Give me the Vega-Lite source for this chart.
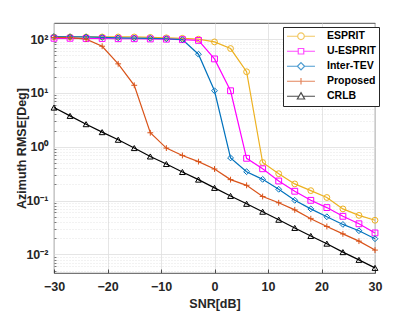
{
  "$schema": "https://vega.github.io/schema/vega-lite/v6.json",
  "width": 321,
  "height": 250,
  "autosize": {"type": "none"},
  "padding": {"left": 54, "top": 23, "right": 40, "bottom": 39},
  "background": "white",
  "config": {
    "font": "Liberation Sans",
    "view": {"stroke": "#262626", "strokeWidth": 0.8},
    "axis": {"domain": false, "labelFlush": false, "labelColor": "#262626", "titleColor": "#262626", "labelFontWeight": "bold", "titleFontWeight": "bold", "labelFontSize": 12.5, "titleFontSize": 12.5, "labelFont": "Liberation Sans", "titleFont": "Liberation Sans"},
    "legend": {"symbolSize": 210, "symbolStrokeWidth": 1.2, "labelFontSize": 10.5, "labelFontWeight": "bold", "labelColor": "#000000", "labelFont": "Liberation Sans", "labelOffset": 18, "padding": 2, "strokeColor": "#262626", "fillColor": "white", "rowPadding": 0, "clipHeight": 14.5, "symbolOffset": 8}
  },
  "data": {"values": [
    {"snr": -30, "series": "ESPRIT", "rmse": 110}, {"snr": -27, "series": "ESPRIT", "rmse": 110}, {"snr": -24, "series": "ESPRIT", "rmse": 110}, {"snr": -21, "series": "ESPRIT", "rmse": 110}, {"snr": -18, "series": "ESPRIT", "rmse": 110}, {"snr": -15, "series": "ESPRIT", "rmse": 110}, {"snr": -12, "series": "ESPRIT", "rmse": 108}, {"snr": -9, "series": "ESPRIT", "rmse": 106}, {"snr": -6, "series": "ESPRIT", "rmse": 104}, {"snr": -3, "series": "ESPRIT", "rmse": 100}, {"snr": 0, "series": "ESPRIT", "rmse": 89}, {"snr": 3, "series": "ESPRIT", "rmse": 67}, {"snr": 6, "series": "ESPRIT", "rmse": 24.8}, {"snr": 9, "series": "ESPRIT", "rmse": 0.51}, {"snr": 12, "series": "ESPRIT", "rmse": 0.316}, {"snr": 15, "series": "ESPRIT", "rmse": 0.204}, {"snr": 18, "series": "ESPRIT", "rmse": 0.153}, {"snr": 21, "series": "ESPRIT", "rmse": 0.114}, {"snr": 24, "series": "ESPRIT", "rmse": 0.07}, {"snr": 27, "series": "ESPRIT", "rmse": 0.053}, {"snr": 30, "series": "ESPRIT", "rmse": 0.043},
    {"snr": -30, "series": "U-ESPRIT", "rmse": 104}, {"snr": -27, "series": "U-ESPRIT", "rmse": 104}, {"snr": -24, "series": "U-ESPRIT", "rmse": 103}, {"snr": -21, "series": "U-ESPRIT", "rmse": 103}, {"snr": -18, "series": "U-ESPRIT", "rmse": 102}, {"snr": -15, "series": "U-ESPRIT", "rmse": 102}, {"snr": -12, "series": "U-ESPRIT", "rmse": 101}, {"snr": -9, "series": "U-ESPRIT", "rmse": 100}, {"snr": -6, "series": "U-ESPRIT", "rmse": 98}, {"snr": -3, "series": "U-ESPRIT", "rmse": 95}, {"snr": 0, "series": "U-ESPRIT", "rmse": 43}, {"snr": 3, "series": "U-ESPRIT", "rmse": 11}, {"snr": 6, "series": "U-ESPRIT", "rmse": 0.61}, {"snr": 9, "series": "U-ESPRIT", "rmse": 0.39}, {"snr": 12, "series": "U-ESPRIT", "rmse": 0.231}, {"snr": 15, "series": "U-ESPRIT", "rmse": 0.149}, {"snr": 18, "series": "U-ESPRIT", "rmse": 0.101}, {"snr": 21, "series": "U-ESPRIT", "rmse": 0.074}, {"snr": 24, "series": "U-ESPRIT", "rmse": 0.051}, {"snr": 27, "series": "U-ESPRIT", "rmse": 0.037}, {"snr": 30, "series": "U-ESPRIT", "rmse": 0.025},
    {"snr": -30, "series": "Inter-TEV", "rmse": 112}, {"snr": -27, "series": "Inter-TEV", "rmse": 111}, {"snr": -24, "series": "Inter-TEV", "rmse": 110}, {"snr": -21, "series": "Inter-TEV", "rmse": 108}, {"snr": -18, "series": "Inter-TEV", "rmse": 106}, {"snr": -15, "series": "Inter-TEV", "rmse": 105}, {"snr": -12, "series": "Inter-TEV", "rmse": 104}, {"snr": -9, "series": "Inter-TEV", "rmse": 102}, {"snr": -6, "series": "Inter-TEV", "rmse": 98}, {"snr": -3, "series": "Inter-TEV", "rmse": 52.6}, {"snr": 0, "series": "Inter-TEV", "rmse": 11}, {"snr": 3, "series": "Inter-TEV", "rmse": 0.62}, {"snr": 6, "series": "Inter-TEV", "rmse": 0.344}, {"snr": 9, "series": "Inter-TEV", "rmse": 0.248}, {"snr": 12, "series": "Inter-TEV", "rmse": 0.162}, {"snr": 15, "series": "Inter-TEV", "rmse": 0.101}, {"snr": 18, "series": "Inter-TEV", "rmse": 0.07}, {"snr": 21, "series": "Inter-TEV", "rmse": 0.05}, {"snr": 24, "series": "Inter-TEV", "rmse": 0.036}, {"snr": 27, "series": "Inter-TEV", "rmse": 0.0275}, {"snr": 30, "series": "Inter-TEV", "rmse": 0.0195},
    {"snr": -30, "series": "Proposed", "rmse": 108}, {"snr": -27, "series": "Proposed", "rmse": 107}, {"snr": -24, "series": "Proposed", "rmse": 100}, {"snr": -21, "series": "Proposed", "rmse": 74}, {"snr": -18, "series": "Proposed", "rmse": 34.8}, {"snr": -15, "series": "Proposed", "rmse": 13.9}, {"snr": -12, "series": "Proposed", "rmse": 1.82}, {"snr": -9, "series": "Proposed", "rmse": 0.946}, {"snr": -6, "series": "Proposed", "rmse": 0.69}, {"snr": -3, "series": "Proposed", "rmse": 0.53}, {"snr": 0, "series": "Proposed", "rmse": 0.386}, {"snr": 3, "series": "Proposed", "rmse": 0.245}, {"snr": 6, "series": "Proposed", "rmse": 0.192}, {"snr": 9, "series": "Proposed", "rmse": 0.119}, {"snr": 12, "series": "Proposed", "rmse": 0.091}, {"snr": 15, "series": "Proposed", "rmse": 0.067}, {"snr": 18, "series": "Proposed", "rmse": 0.046}, {"snr": 21, "series": "Proposed", "rmse": 0.033}, {"snr": 24, "series": "Proposed", "rmse": 0.024}, {"snr": 27, "series": "Proposed", "rmse": 0.0176}, {"snr": 30, "series": "Proposed", "rmse": 0.012},
    {"snr": -30, "series": "CRLB", "rmse": 5.35}, {"snr": -27, "series": "CRLB", "rmse": 3.75}, {"snr": -24, "series": "CRLB", "rmse": 2.63}, {"snr": -21, "series": "CRLB", "rmse": 1.87}, {"snr": -18, "series": "CRLB", "rmse": 1.35}, {"snr": -15, "series": "CRLB", "rmse": 0.946}, {"snr": -12, "series": "CRLB", "rmse": 0.66}, {"snr": -9, "series": "CRLB", "rmse": 0.478}, {"snr": -6, "series": "CRLB", "rmse": 0.34}, {"snr": -3, "series": "CRLB", "rmse": 0.245}, {"snr": 0, "series": "CRLB", "rmse": 0.172}, {"snr": 3, "series": "CRLB", "rmse": 0.122}, {"snr": 6, "series": "CRLB", "rmse": 0.087}, {"snr": 9, "series": "CRLB", "rmse": 0.062}, {"snr": 12, "series": "CRLB", "rmse": 0.044}, {"snr": 15, "series": "CRLB", "rmse": 0.031}, {"snr": 18, "series": "CRLB", "rmse": 0.022}, {"snr": 21, "series": "CRLB", "rmse": 0.0158}, {"snr": 24, "series": "CRLB", "rmse": 0.011}, {"snr": 27, "series": "CRLB", "rmse": 0.0079}, {"snr": 30, "series": "CRLB", "rmse": 0.0056}
  ]},
  "layer": [
    {
      "mark": {"type": "line", "strokeWidth": 1.2},
      "encoding": {
        "x": {"field": "snr", "type": "quantitative", "scale": {"domain": [-30, 30], "nice": false},
          "axis": {"values": [-30, -20, -10, 0, 10, 20, 30], "grid": true, "gridColor": "#dedede", "gridWidth": 0.8, "ticks": false, "labelPadding": 7, "title": "SNR[dB]", "titlePadding": 5}},
        "y": {"field": "rmse", "type": "quantitative", "scale": {"type": "log", "domain": [0.0045, 200], "nice": false},
          "axis": {"values": [0.01, 0.1, 1, 10, 100], "grid": true, "gridColor": "#dedede", "gridWidth": 0.8, "ticks": false, "labelPadding": 6, "title": "Azimuth RMSE[Deg]", "titlePadding": -3,
            "labelExpr": "datum.value > 50 ? '10²' : datum.value > 5 ? '10¹' : datum.value > 0.5 ? '10⁰' : datum.value > 0.05 ? '10⁻¹' : '10⁻²'"}},
        "color": {"field": "series", "type": "nominal", "scale": {"domain": ["ESPRIT", "U-ESPRIT", "Inter-TEV", "Proposed", "CRLB"], "range": ["#EDB120", "#FF00FF", "#0072BD", "#D95319", "#000000"]}, "legend": null}
      }
    },
    {
      "mark": {"type": "point", "filled": false, "strokeWidth": 1, "size": 34, "opacity": 1},
      "encoding": {
        "x": {"field": "snr", "type": "quantitative",
          "axis": {"orient": "bottom", "values": [-30, -20, -10, 0, 10, 20, 30], "grid": false, "labels": false, "ticks": true, "tickSize": -4, "tickColor": "#262626", "tickWidth": 0.8, "title": null}},
        "y": {"field": "rmse", "type": "quantitative",
          "axis": {"orient": "left", "values": [0.005, 0.006, 0.007, 0.008, 0.009, 0.02, 0.03, 0.04, 0.05, 0.06, 0.07, 0.08, 0.09, 0.2, 0.3, 0.4, 0.5, 0.6, 0.7, 0.8, 0.9, 2, 3, 4, 5, 6, 7, 8, 9, 20, 30, 40, 50, 60, 70, 80, 90],
            "grid": true, "gridColor": "#d4d4d4", "gridDash": [1, 2], "gridWidth": 0.6, "labels": false, "ticks": true, "tickSize": -2, "tickColor": "#262626", "tickWidth": 0.6, "title": null}},
        "color": {"field": "series", "type": "nominal", "scale": {"domain": ["ESPRIT", "U-ESPRIT", "Inter-TEV", "Proposed", "CRLB"], "range": ["#EDB120", "#FF00FF", "#0072BD", "#D95319", "#000000"]}, "legend": null},
        "shape": {"field": "series", "type": "nominal", "scale": {"domain": ["ESPRIT", "U-ESPRIT", "Inter-TEV", "Proposed", "CRLB"], "range": ["circle", "square", "diamond", "M0,-1L0,1M-1,0L1,0", "triangle-up"]}, "legend": null}
      }
    },
    {
      "transform": [{"filter": "false"}],
      "mark": {"type": "point", "filled": false, "strokeWidth": 1.2},
      "encoding": {
        "color": {"field": "series", "type": "nominal", "scale": {"domain": ["ESPRIT", "U-ESPRIT", "Inter-TEV", "Proposed", "CRLB"], "range": ["#EDB120", "#FF00FF", "#0072BD", "#D95319", "#000000"]},
          "legend": {"orient": "none", "legendX": 229, "legendY": 4, "title": null, "clipHeight": 14.5, "rowPadding": 0, "labelFontSize": 10.5, "labelOffset": 18, "symbolOffset": 8, "padding": 2, "symbolSize": 210}},
        "shape": {"field": "series", "type": "nominal", "scale": {"domain": ["ESPRIT", "U-ESPRIT", "Inter-TEV", "Proposed", "CRLB"], "range": [
          "M-1.93,0L-0.455,0M0.455,0L1.93,0M-0.455,0A0.455,0.455,0,1,1,0.455,0A0.455,0.455,0,1,1,-0.455,0Z",
          "M-1.93,0L-0.38,0M0.38,0L1.93,0M-0.38,-0.38L0.38,-0.38L0.38,0.38L-0.38,0.38Z",
          "M-1.93,0L-0.5,0M0.5,0L1.93,0M0,-0.5L0.5,0L0,0.5L-0.5,0Z",
          "M-1.93,0L1.93,0M0,-0.44L0,0.44",
          "M-1.93,0L-0.28,0M0.28,0L1.93,0M0,-0.5L0.5,0.38L-0.5,0.38Z"]},
          "legend": {"orient": "none", "legendX": 229, "legendY": 4, "title": null, "clipHeight": 14.5, "rowPadding": 0, "labelFontSize": 10.5, "labelOffset": 18, "symbolOffset": 8, "padding": 2, "symbolSize": 210}}
      }
    }
  ],
  "resolve": {"scale": {"color": "independent", "shape": "independent"}, "axis": {"x": "independent", "y": "independent"}}
}
